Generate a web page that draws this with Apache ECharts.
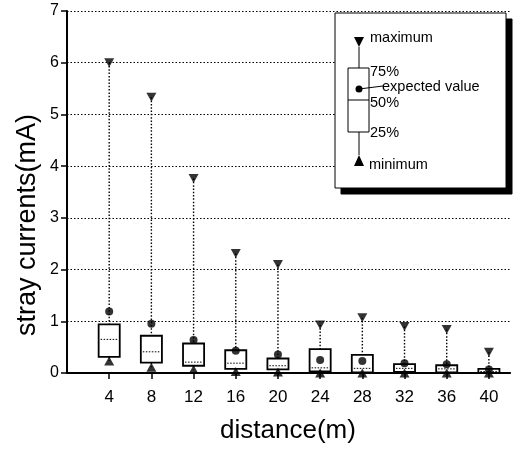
<!DOCTYPE html>
<html>
<head>
<meta charset="utf-8">
<script src="https://cdn.jsdelivr.net/npm/echarts@6/dist/echarts.min.js"></script>
<style>
  html, body { margin: 0; padding: 0; background: #fff; }
  #chart { width: 513px; height: 449px; }
</style>
</head>
<body>
<div id="chart"></div>
<script>
// Stray current statistics measured at increasing distance (m)
const distances = [4, 8, 12, 16, 20, 24, 28, 32, 36, 40];
const maxima    = [6.00, 5.33, 3.76, 2.31, 2.10, 0.93, 1.07, 0.90, 0.84, 0.40];
const upperQ    = [0.94, 0.72, 0.57, 0.44, 0.28, 0.46, 0.35, 0.17, 0.15, 0.08];
const medians   = [0.65, 0.41, 0.21, 0.19, 0.14, 0.10, 0.09, 0.09, 0.08, 0.03];
const lowerQ    = [0.31, 0.20, 0.14, 0.08, 0.07, 0.03, 0.01, 0.02, 0.01, 0.00];
const means     = [1.19, 0.95, 0.64, 0.43, 0.36, 0.25, 0.23, 0.19, 0.17, 0.07];
const minima    = [0.23, 0.11, 0.07, 0.03, 0.02, 0.00, 0.00, 0.00, 0.00, 0.00];
const yTicks    = [0, 1, 2, 3, 4, 5, 6, 7];

const FONT = 'Liberation Sans, Arial, sans-serif';
const BOX_HALF = 1; // half box width in metres

const boxRows = distances.map((d, i) => [d, maxima[i], upperQ[i], medians[i], lowerQ[i], minima[i]]);
const pairs = (arr) => distances.map((d, i) => [d, arr[i]]);

const dotted = { stroke: '#000', lineWidth: 1.4, lineDash: [1.5, 1.8] };

function renderBox(params, api) {
  const x = api.value(0);
  const hi = api.coord([x, api.value(1)]);
  const q3 = api.coord([x - BOX_HALF, api.value(2)]);
  const q3r = api.coord([x + BOX_HALF, api.value(2)]);
  const medL = api.coord([x - BOX_HALF, api.value(3)]);
  const medR = api.coord([x + BOX_HALF, api.value(3)]);
  const q1 = api.coord([x - BOX_HALF, api.value(4)]);
  const lo = api.coord([x, api.value(5)]);
  const mid = api.coord([x, api.value(2)]);
  const midLow = api.coord([x, api.value(4)]);
  return {
    type: 'group',
    children: [
      { type: 'line', shape: { x1: hi[0], y1: hi[1], x2: mid[0], y2: mid[1] }, style: dotted },
      { type: 'line', shape: { x1: midLow[0], y1: midLow[1], x2: lo[0], y2: lo[1] }, style: dotted },
      { type: 'rect', shape: { x: q3[0], y: q3[1], width: q3r[0] - q3[0], height: q1[1] - q3[1] },
        style: { fill: '#fff', stroke: '#000', lineWidth: 1.8 } },
      { type: 'line', shape: { x1: medL[0] + 2, y1: medL[1], x2: medR[0] - 2, y2: medR[1] }, style: { stroke: '#000', lineWidth: 1, lineDash: [1.5, 1.5] } }
    ]
  };
}

const chart = echarts.init(document.getElementById('chart'), null, { renderer: 'canvas' });

const legendX = 335, legendY = 13, legendW = 171, legendH = 175;
const kx = 359; // key glyph centre
const keyText = (text, x, y) => ({
  type: 'text', x: x, y: y, z: 102, silent: true,
  style: { text: text, fontFamily: FONT, fontSize: 14.5, fill: '#000', verticalAlign: 'middle' }
});

chart.setOption({
  animation: false,
  backgroundColor: '#fff',
  grid: { left: 67, right: 3, top: 11, bottom: 76, containLabel: false },
  xAxis: [{
    type: 'value', min: 0, max: 42, interval: 4,
    axisLine: { show: true, onZero: false, lineStyle: { color: '#000', width: 2 } },
    axisTick: { show: true, inside: false, length: 6, customValues: distances, lineStyle: { color: '#000', width: 1.5 } },
    axisLabel: { customValues: distances, margin: 16, color: '#000', fontFamily: FONT, fontSize: 17 },
    splitLine: { show: false }
  }, {
    type: 'value', position: 'top', min: 0, max: 42,
    axisLine: { show: true, lineStyle: { color: '#000', width: 1.5 } },
    axisTick: { show: false }, axisLabel: { show: false }, splitLine: { show: false }
  }],
  yAxis: {
    type: 'value', min: 0, max: 7, interval: 1,
    axisLine: { show: true, lineStyle: { color: '#000', width: 2 } },
    axisTick: { show: true, length: 6, lineStyle: { color: '#000', width: 1.5 } },
    axisLabel: { customValues: yTicks, margin: 8, color: '#000', fontFamily: FONT, fontSize: 16 },
    splitLine: { show: true, lineStyle: { color: '#000', width: 1, type: [1.5, 2] } }
  },
  series: [
    {
      type: 'custom', name: 'box', renderItem: renderBox, data: boxRows,
      encode: { x: 0, y: [1, 2, 3, 4, 5] }, z: 2, clip: false
    },
    {
      type: 'scatter', name: 'maximum', data: pairs(maxima), symbol: 'triangle', symbolRotate: 180,
      symbolSize: [10, 9], itemStyle: { color: '#000' }, z: 4
    },
    {
      type: 'scatter', name: 'minimum', data: pairs(minima), symbol: 'triangle',
      symbolSize: [10, 9], itemStyle: { color: '#000' }, z: 4, clip: false
    },
    {
      type: 'scatter', name: 'expected value', data: pairs(means), symbol: 'circle',
      symbolSize: 8, itemStyle: { color: '#000' }, z: 5
    }
  ],
  graphic: [
    { type: 'text', x: 28, y: 225, rotation: Math.PI / 2, silent: true,
      style: { text: 'stray currents(mA)', fontFamily: FONT, fontSize: 27, fill: '#000', align: 'center', verticalAlign: 'middle' } },
    { type: 'text', x: 288, y: 431, silent: true,
      style: { text: 'distance(m)', fontFamily: FONT, fontSize: 26, fill: '#000', align: 'center', verticalAlign: 'middle' } },
    // legend key: framed panel with a solid drop shadow
    { type: 'rect', z: 100, silent: true, shape: { x: legendX + 6, y: legendY + 6, width: legendW, height: legendH }, style: { fill: '#000', stroke: '#000' } },
    { type: 'rect', z: 101, silent: true, shape: { x: legendX, y: legendY, width: legendW, height: legendH }, style: { fill: '#fff', stroke: '#000', lineWidth: 1 } },
    { type: 'polygon', z: 102, silent: true, shape: { points: [[kx - 5, 37], [kx + 5, 37], [kx, 47]] }, style: { fill: '#000' } },
    { type: 'line', z: 102, silent: true, shape: { x1: kx, y1: 47, x2: kx, y2: 68 }, style: { stroke: '#000', lineWidth: 1 } },
    { type: 'rect', z: 102, silent: true, shape: { x: 348, y: 68, width: 21, height: 64 }, style: { fill: '#fff', stroke: '#000', lineWidth: 1 } },
    { type: 'line', z: 103, silent: true, shape: { x1: 348, y1: 100, x2: 369, y2: 100 }, style: { stroke: '#000', lineWidth: 1 } },
    { type: 'line', z: 102, silent: true, shape: { x1: kx, y1: 132, x2: kx, y2: 155 }, style: { stroke: '#000', lineWidth: 1 } },
    { type: 'polygon', z: 102, silent: true, shape: { points: [[kx - 5, 166], [kx + 5, 166], [kx, 155]] }, style: { fill: '#000' } },
    { type: 'line', z: 103, silent: true, shape: { x1: kx, y1: 89, x2: 383, y2: 86 }, style: { stroke: '#000', lineWidth: 1 } },
    { type: 'circle', z: 104, silent: true, shape: { cx: kx, cy: 89, r: 3.5 }, style: { fill: '#000' } },
    keyText('maximum', 370, 38),
    keyText('75%', 370, 72),
    keyText('expected value', 382, 87),
    keyText('50%', 370, 103),
    keyText('25%', 370, 133),
    keyText('minimum', 369, 165)
  ]
});
</script>
</body>
</html>
